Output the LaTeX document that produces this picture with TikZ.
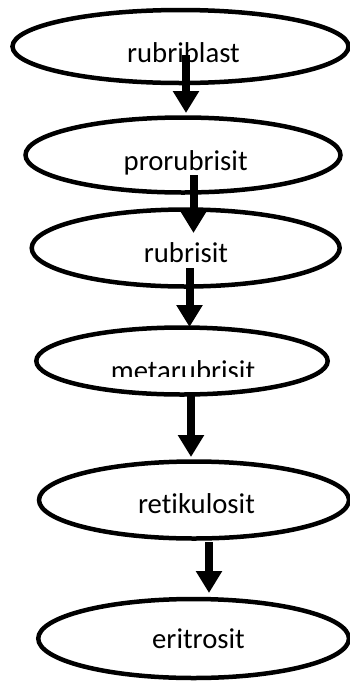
\documentclass[tikz,border=0pt]{standalone}
\usepackage{fontspec}
\setmainfont[Ligatures=NoCommon]{Carlito}
\usetikzlibrary{shapes.geometric,arrows.meta,calc}
\tikzset{
  ell/.style={draw=black, line width=4.5pt, ellipse, inner sep=0pt, outer sep=0pt},
  lbl/.style={anchor=base, inner sep=0pt, font=\fontsize{28.7}{34}\selectfont},
  arr/.style={line width=8pt, -{Triangle[length=22pt,width=25pt]}}
}
\begin{document}
\begin{tikzpicture}[x=1pt,y=-1pt]
\useasboundingbox (0,0) rectangle (349,681);
\node[ell, minimum width=336pt, minimum height=73pt] (e1) at (180.5,46.5) {};
\node[ell, minimum width=315pt, minimum height=75pt] (e2) at (183,155) {};
\node[ell, minimum width=308pt, minimum height=77pt] (e3) at (185.7,248) {};
\node[ell, minimum width=291.4pt, minimum height=67pt] (e4) at (182,361) {};
\node[ell, minimum width=310pt, minimum height=77pt] (e5) at (194,500) {};
\node[ell, minimum width=310.7pt, minimum height=79pt] (e6) at (193.6,638.5) {};
\node[lbl] (t1) at (183.5,62) {rubriblast};
\node[lbl] (t2) at (185.7,170) {prorubrisit};
\node[lbl] (t3) at (186,262.7) {rubrisit};
\begin{scope}
\clip (90,340) rectangle (280,376);
\node[lbl] (t4) at (183,380) {metarubrisit};
\end{scope}
\node[lbl] (t5) at (196.5,513) {retikulosit};
\node[lbl] (t6) at (198.5,648) {eritrosit};
\draw[arr] ($(e1.center)+(5.5,8.5)$) -- ($(e2.center)+(3,-42)$);
\draw[arr] ($(e2.center)+(10.5,20)$) -- ($(e3.center)+(7.8,-15)$);
\draw[arr] ($(e3.center)+(3.8,20)$) -- ($(e4.center)+(7.5,-34)$);
\draw[arr] ($(e4.center)+(9,31)$) -- ($(e5.center)+(-3,-43)$);
\draw[arr] ($(e5.center)+(15,42)$) -- ($(e6.center)+(15.4,-45.5)$);
\end{tikzpicture}
\end{document}
